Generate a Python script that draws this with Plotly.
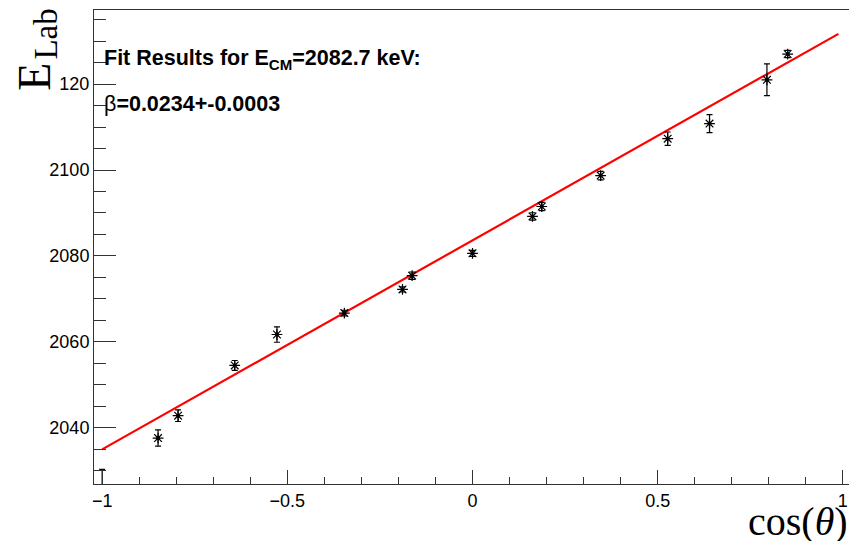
import plotly.graph_objects as go

# data points (cos(theta), E_Lab, error)
cos_theta = [-1.0, -0.849, -0.795, -0.642, -0.528, -0.346, -0.189, -0.163, 0.0,
             0.162, 0.187, 0.346, 0.527, 0.640, 0.795, 0.851]
e_lab = [2022.0, 2037.6, 2042.8, 2054.5, 2061.7, 2066.7, 2072.2, 2075.4, 2080.6,
         2089.2, 2091.5, 2098.7, 2107.3, 2110.8, 2121.0, 2127.0]
e_err = [8.3, 1.9, 1.35, 1.15, 1.8, 0.65, 0.6, 0.85, 0.7,
         0.85, 0.95, 1.0, 1.55, 2.1, 3.7, 0.85]

# fit line endpoints
fit_x = [-1.0, 0.988]
fit_y = [2034.96, 2131.7]

y_tickvals = [2040, 2060, 2080, 2100, 2120]
y_ticktext = ["2040", "2060", "2080", "2100", "120"]
x_tickvals = [-1, -0.5, 0, 0.5, 1]
x_ticktext = ["\u22121", "\u22120.5", "0", "0.5", "1"]

fig = go.Figure()
fig.add_trace(go.Scatter(
    x=fit_x, y=fit_y, mode="lines",
    line=dict(color="#ff0000", width=2.2), showlegend=False, hoverinfo="skip"))
fig.add_trace(go.Scatter(
    x=cos_theta, y=e_lab, mode="markers",
    marker=dict(symbol="asterisk-open", size=9, color="black",
                line=dict(color="black", width=1.2)),
    error_y=dict(type="data", array=e_err, visible=True, color="black",
                 thickness=1.2, width=3),
    showlegend=False))
fig.add_trace(go.Scatter(
    x=cos_theta, y=e_lab, mode="markers",
    marker=dict(symbol="circle", size=4, color="black"),
    showlegend=False, hoverinfo="skip"))

axis_common = dict(showline=True, linecolor="#333333", linewidth=1, mirror=True,
                   showgrid=False, zeroline=False, ticks="inside", automargin=False,
                   tickcolor="#333333", tickwidth=1,
                   tickfont=dict(family="Liberation Sans", size=18, color="black"))

fig.update_xaxes(range=[-1.022, 1.022], tickvals=x_tickvals, ticktext=x_ticktext,
                 ticklen=14,
                 minor=dict(dtick=0.1, ticks="inside", ticklen=7, tickcolor="#333333",
                            showgrid=False),
                 **axis_common)
fig.update_yaxes(range=[2026.9, 2137.25], tickvals=y_tickvals, ticktext=y_ticktext,
                 ticklen=22,
                 minor=dict(tick0=2000, dtick=5, ticks="inside", ticklen=12,
                            tickcolor="#333333", showgrid=False),
                 **axis_common)

# page body has an 8px default margin, so the figure is made 8px smaller
fig.update_layout(
    width=849, height=533,
    margin=dict(l=86, r=6, t=2, b=57),
    plot_bgcolor="white", paper_bgcolor="white",
    annotations=[
        dict(text="E", xref="paper", yref="paper",
             x=-0.078, y=0.859, xanchor="center", yanchor="middle", textangle=-90,
             showarrow=False,
             font=dict(family="Liberation Serif", size=46, color="black")),
        dict(text="Lab", xref="paper", yref="paper",
             x=-0.064, y=0.9494, xanchor="center", yanchor="middle", textangle=-90,
             showarrow=False,
             font=dict(family="Liberation Serif", size=33, color="black")),
        dict(text="cos(<i>\u03b8</i>)", xref="paper", yref="paper",
             x=0.999, y=-0.080, xanchor="right", yanchor="middle",
             showarrow=False,
             font=dict(family="Liberation Serif", size=40, color="black")),
        dict(text="<b>Fit Results for E<sub>CM</sub>=2082.7 keV:</b>",
             xref="paper", yref="paper", x=0.011, y=0.895,
             xanchor="left", yanchor="middle", showarrow=False,
             font=dict(family="Liberation Sans", size=21.5, color="black")),
        dict(text="\u03b2<b>=0.0234+-0.0003</b>",
             xref="paper", yref="paper", x=0.011, y=0.801,
             xanchor="left", yanchor="middle", showarrow=False,
             font=dict(family="Liberation Sans", size=21.5, color="black")),
    ],
)

fig.write_html("out.html")
